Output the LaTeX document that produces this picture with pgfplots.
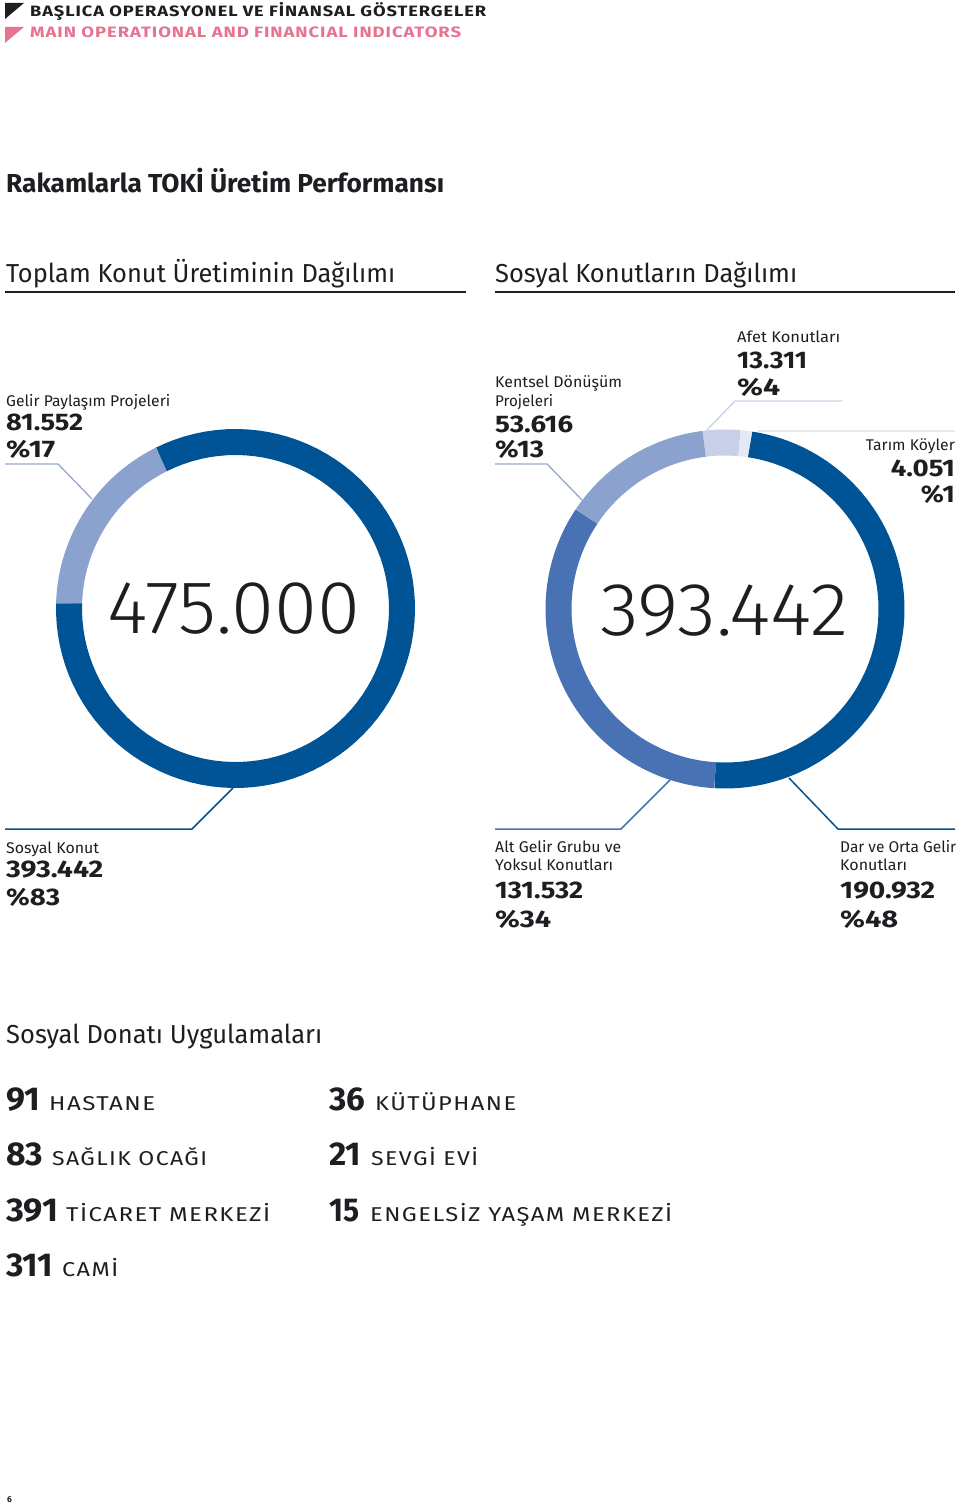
\documentclass[border=0pt]{standalone}
\usepackage{fontspec}
\setmainfont{Fira Sans}
\newfontfamily\lightfont{Fira Sans Light}
\usepackage{graphicx}
\usepackage{pgfplots}
\pgfplotsset{compat=1.18}

\definecolor{ink}{RGB}{30,30,34}
\definecolor{pinkhd}{RGB}{230,115,143}
\definecolor{dkblue}{RGB}{0,84,150}
\definecolor{mdblue}{RGB}{72,114,180}
\definecolor{ltblue}{RGB}{140,162,206}
\definecolor{vlblue}{RGB}{200,208,232}
\definecolor{tarim}{RGB}{228,232,242}
\definecolor{lead}{RGB}{150,166,205}
\definecolor{leadlt}{RGB}{200,210,230}

\tikzset{
  txt/.style={anchor=base west, inner sep=0pt, text=ink},
  txtr/.style={anchor=base east, inner sep=0pt, text=ink},
}

% squeeze/stretch a line of text to the width it has in the reference
\newsavebox\fitbox
\newcommand\fit[2]{\sbox\fitbox{#2}\pgfmathparse{#1/\the\wd\fitbox}\scalebox{\pgfmathresult}[1]{\usebox\fitbox}}
\newcommand\lab{\fontsize{15.5}{18}\selectfont}
\newcommand\num{\bfseries\fontsize{24}{26}\selectfont}
\newcommand\hd{\fontsize{26}{28}\selectfont}
\newcommand\cnt{\bfseries\fontsize{33}{34}\selectfont}
\newcommand\caps{\fontsize{20}{22}\selectfont\addfontfeatures{LetterSpace=6}}

% values in thousands (Turkish dot = thousands separator)
% total production 475.000: gelir paylasim 81.552, sosyal konut 393.442
\pgfmathsetmacro\Sa{178.2}
\pgfmathsetmacro\Aa{\Sa-81.552/475*360}
\pgfmathsetmacro\Ae{\Sa-360}
% social housing 393.442: afet 13.311, tarim 4.051, dar-orta 190.932, alt gelir 131.532, kentsel 53.616
\pgfmathsetmacro\Sb{97.2}
\pgfmathsetmacro\Ba{\Sb-13.311/393.442*360}
\pgfmathsetmacro\Bb{\Ba-4.051/393.442*360}
\pgfmathsetmacro\Bc{\Bb-190.932/393.442*360}
\pgfmathsetmacro\Bd{\Bc-131.532/393.442*360}
\pgfmathsetmacro\Be{\Sb-360}

\newcommand\seg[5]{\addplot[draw=#5, line width=26pt, line cap=butt, domain=#3:#4, samples=90] ({#1+166.5*cos(x)}, {#2-166.5*sin(x)});}

\begin{document}
\begin{tikzpicture}[x=1pt,y=1pt]
\useasboundingbox (0,0) rectangle (960,1506);
\begin{axis}[at={(0,0)}, anchor=south west, scale only axis, width=960pt, height=1506pt,
  xmin=0, xmax=960, ymin=0, ymax=1506, y dir=reverse, hide axis, clip=false,
  every axis plot/.append style={no markers}]

% header marks
\addplot[fill=ink, draw=none] coordinates {(5,3) (24,3) (5,19) (5,3)};
\addplot[fill=pinkhd, draw=none] coordinates {(5,27) (24,27) (5,43) (5,27)};
\node[txt] at (axis cs:30,17) {\fit{456}{\bfseries\fontsize{15}{16}\selectfont\addfontfeatures{LetterSpace=5}BAŞLICA OPERASYONEL VE FİNANSAL GÖSTERGELER}};
\node[txt, text=pinkhd] at (axis cs:30,38) {\fit{431}{\bfseries\fontsize{15}{16}\selectfont\addfontfeatures{LetterSpace=5}MAIN OPERATIONAL AND FINANCIAL INDICATORS}};

\node[txt] at (axis cs:6,193) {\fit{438}{\bfseries\hd Rakamlarla TOKİ Üretim Performansı}};
\node[txt] at (axis cs:6,282) {\fit{389}{\hd Toplam Konut Üretiminin Dağılımı}};
\node[txt] at (axis cs:495,282) {\fit{302}{\hd Sosyal Konutların Dağılımı}};
\addplot[draw=ink, line width=1.2pt] coordinates {(5,292) (466,292)};
\addplot[draw=ink, line width=1.2pt] coordinates {(495,292) (955,292)};

% donut 1
\seg{235.5}{608.5}{\Aa}{\Sa}{ltblue}
\seg{235.5}{608.5}{\Ae}{\Aa}{dkblue}
% donut 2
\seg{725}{609}{\Ba}{\Sb}{vlblue}
\seg{725}{609}{\Bb}{\Ba}{tarim}
\seg{725}{609}{\Bc}{\Bb}{dkblue}
\seg{725}{609}{\Bd}{\Bc}{mdblue}
\seg{725}{609}{\Be}{\Bd}{ltblue}

\node[txt] at (axis cs:107,633) {\fit{253}{\lightfont\fontsize{75}{75}\selectfont 475.000}};
\node[txt] at (axis cs:600,635) {\fit{248}{\lightfont\fontsize{75}{75}\selectfont 393.442}};

% leader lines
\addplot[draw=lead, line width=1.3pt] coordinates {(5,464) (58,464) (92,499)};
\addplot[draw=dkblue, line width=1.5pt] coordinates {(5,829) (192,829) (233,788)};
\addplot[draw=lead, line width=1.3pt] coordinates {(495,464) (547,464) (582,500)};
\addplot[draw=leadlt, line width=1.3pt] coordinates {(707,430) (735,401) (842,401)};
\addplot[draw=tarim, line width=1.3pt] coordinates {(757,431) (955,431)};
\addplot[draw=mdblue, line width=1.5pt] coordinates {(495,829) (621,829) (670,780)};
\addplot[draw=dkblue, line width=1.5pt] coordinates {(789,778) (838,829) (955,829)};

% labels, donut 1
\node[txt] at (axis cs:6,406) {\fit{164}{\lab Gelir Paylaşım Projeleri}};
\node[txt] at (axis cs:6,430) {\fit{77}{\num 81.552}};
\node[txt] at (axis cs:6,457) {\fit{49}{\num \%17}};
\node[txt] at (axis cs:6,853) {\fit{93}{\lab Sosyal Konut}};
\node[txt] at (axis cs:6,877) {\fit{97}{\num 393.442}};
\node[txt] at (axis cs:6,905) {\fit{54}{\num \%83}};
% labels, donut 2
\node[txt] at (axis cs:495,387) {\fit{127}{\lab Kentsel Dönüşüm}};
\node[txt] at (axis cs:495,406) {\fit{58}{\lab Projeleri}};
\node[txt] at (axis cs:495,432) {\fit{78}{\num 53.616}};
\node[txt] at (axis cs:495,457) {\fit{49}{\num \%13}};
\node[txt] at (axis cs:737,342) {\fit{103}{\lab Afet Konutları}};
\node[txt] at (axis cs:737,368) {\fit{70}{\num 13.311}};
\node[txt] at (axis cs:737,395) {\fit{43}{\num \%4}};
\node[txtr] at (axis cs:955,450) {\fit{89}{\lab Tarım Köyler}};
\node[txtr] at (axis cs:955,476) {\fit{64}{\num 4.051}};
\node[txtr] at (axis cs:955,502) {\fit{34}{\num \%1}};
\node[txt] at (axis cs:495,852) {\fit{126}{\lab Alt Gelir Grubu ve}};
\node[txt] at (axis cs:495,870) {\fit{118}{\lab Yoksul Konutları}};
\node[txt] at (axis cs:495,898) {\fit{88}{\num 131.532}};
\node[txt] at (axis cs:495,927) {\fit{56}{\num \%34}};
\node[txt] at (axis cs:840,852) {\fit{116}{\lab Dar ve Orta Gelir}};
\node[txt] at (axis cs:840,870) {\fit{67}{\lab Konutları}};
\node[txt] at (axis cs:840,898) {\fit{95}{\num 190.932}};
\node[txt] at (axis cs:840,927) {\fit{58}{\num \%48}};

% social facilities
\node[txt] at (axis cs:6,1043) {\fit{316}{\hd Sosyal Donatı Uygulamaları}};
\node[txt] at (axis cs:6,1110) {\fit{34}{\cnt 91}};
\node[txt] at (axis cs:49,1110) {\fit{106}{\caps HASTANE}};
\node[txt] at (axis cs:6,1165) {\fit{37}{\cnt 83}};
\node[txt] at (axis cs:52,1165) {\fit{155}{\caps SAĞLIK OCAĞI}};
\node[txt] at (axis cs:6,1221) {\fit{52}{\cnt 391}};
\node[txt] at (axis cs:66,1221) {\fit{204}{\caps TİCARET MERKEZİ}};
\node[txt] at (axis cs:6,1276) {\fit{47}{\cnt 311}};
\node[txt] at (axis cs:62,1276) {\fit{56}{\caps CAMİ}};
\node[txt] at (axis cs:329,1110) {\fit{36}{\cnt 36}};
\node[txt] at (axis cs:375,1110) {\fit{141}{\caps KÜTÜPHANE}};
\node[txt] at (axis cs:329,1165) {\fit{32}{\cnt 21}};
\node[txt] at (axis cs:371,1165) {\fit{107}{\caps SEVGİ EVİ}};
\node[txt] at (axis cs:329,1221) {\fit{30}{\cnt 15}};
\node[txt] at (axis cs:370,1221) {\fit{302}{\caps ENGELSİZ YAŞAM MERKEZİ}};

\node[txt] at (axis cs:7,1502) {\bfseries\fontsize{8.5}{9}\selectfont 6};
\end{axis}
\end{tikzpicture}
\end{document}
